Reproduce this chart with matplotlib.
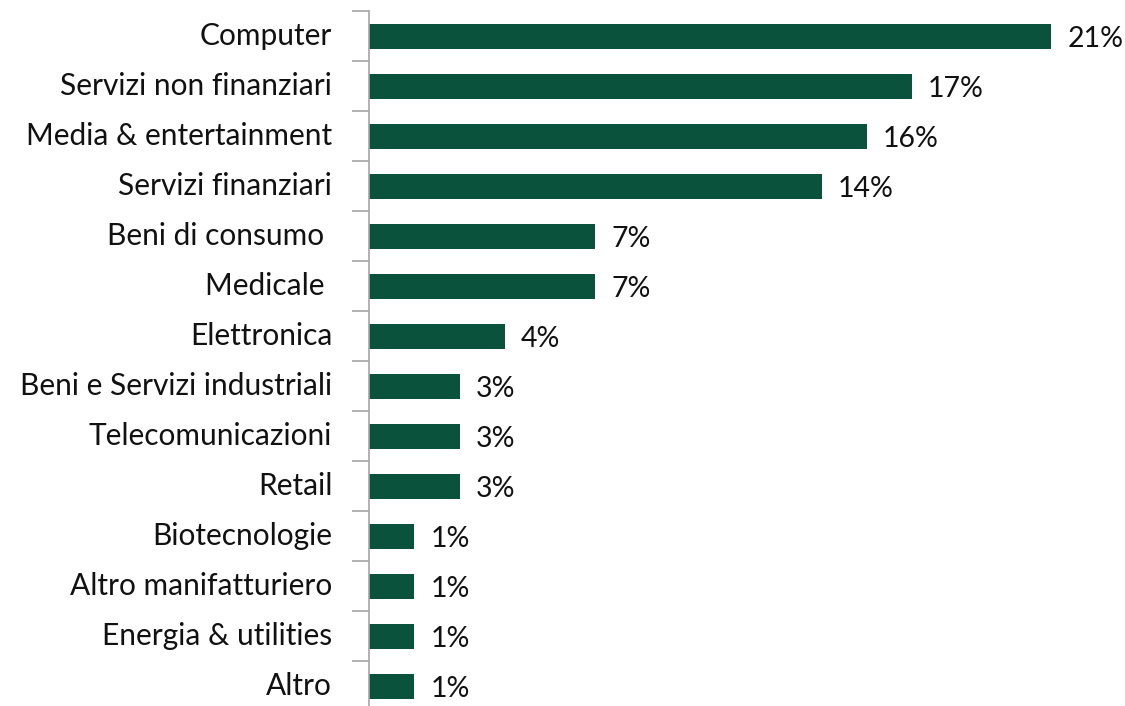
import numpy as np
import matplotlib
matplotlib.use("Agg")
import matplotlib.pyplot as plt
import matplotlib.transforms as mtransforms

plt.rcParams['font.family'] = ['Lato', 'DejaVu Sans']

# Sector shares (%), top to bottom
sectors = ['Computer', 'Servizi non finanziari', 'Media & entertainment',
           'Servizi finanziari', 'Beni di consumo ', 'Medicale ', 'Elettronica',
           'Beni e Servizi industriali', 'Telecomunicazioni', 'Retail',
           'Biotecnologie', 'Altro manifatturiero', 'Energia & utilities', 'Altro']
shares = [21.1, 16.8, 15.4, 14.0, 7.0, 7.0, 4.2, 2.8, 2.8, 2.8, 1.4, 1.4, 1.4, 1.4]
share_labels = ['21%', '17%', '16%', '14%', '7%', '7%', '4%', '3%', '3%', '3%',
                '1%', '1%', '1%', '1%']

bar_color = '#0b523c'

fig = plt.figure(figsize=(11.25, 7.06), dpi=100)
ax = fig.add_axes([369 / 1125, -5 / 706, (1125 - 369) / 1125, 700 / 706])

y = np.arange(len(sectors))
ax.barh(y, shares, height=0.5, color=bar_color)
ax.set_ylim(len(sectors) - 0.5, -0.5)
ax.set_xlim(0, 21.1 * 756 / 682)

for yi, v, lab in zip(y, shares, share_labels):
    ax.text(v + 0.5, yi + 0.05, lab, va='center', ha='left', fontsize=20.5, color='#111111')

# labels at category centres, tick marks at boundaries
ax.set_yticks(y)
ax.set_yticklabels(sectors, fontsize=21.5, color='#111111')
ax.tick_params(axis='y', which='major', length=0, pad=26.5)
# nudge category labels up a little
shift = mtransforms.ScaledTranslation(0, 3 / 100, fig.dpi_scale_trans)
for t in ax.get_yticklabels():
    t.set_transform(t.get_transform() + shift)
ax.set_yticks(np.arange(len(sectors) + 1) - 0.5, minor=True)
ax.tick_params(axis='y', which='minor', length=12, width=1.2, color='#a6a6a6')
ax.set_xticks([])

for s in ['top', 'right', 'bottom']:
    ax.spines[s].set_visible(False)
ax.spines['left'].set_color('#a6a6a6')
ax.spines['left'].set_linewidth(1.2)

fig.savefig('out.png', dpi=100)
